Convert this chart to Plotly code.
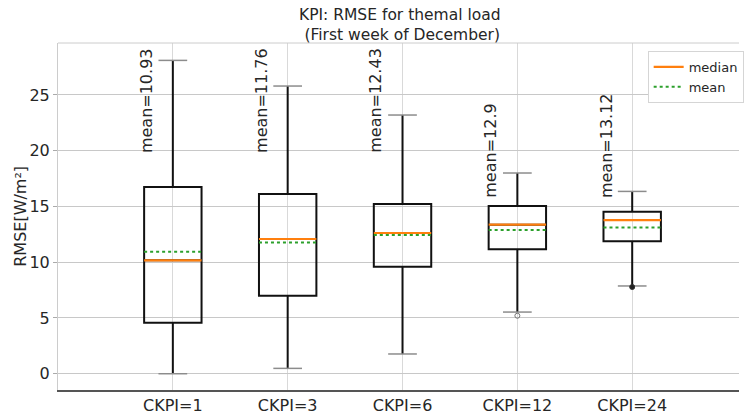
import plotly.graph_objects as go

# ---- data ----
categories = ["CKPI=1", "CKPI=3", "CKPI=6", "CKPI=12", "CKPI=24"]
positions = [1, 2, 3, 4, 5]
lower_whisker = [0.0, 0.48, 1.77, 5.53, 7.87]
q1_vals = [4.57, 7.0, 9.6, 11.16, 11.87]
median_vals = [10.17, 12.08, 12.62, 13.37, 13.78]
mean_vals = [10.93, 11.76, 12.43, 12.9, 13.12]
q3_vals = [16.75, 16.12, 15.22, 15.04, 14.53]
upper_whisker = [28.1, 25.8, 23.2, 18.0, 16.35]
outlier_pos = [4, 5]
outlier_vals = [5.2, 7.78]
label_y = [19.6, 19.6, 19.6, 15.6, 15.6]
y_ticks = [0, 5, 10, 15, 20, 25]

BOX_W = 0.5
CAP_W = 0.25
FONT = "DejaVu Sans"
TXT = "#262626"

fig = go.Figure()

# boxes + whiskers
fig.add_trace(go.Box(
    x=positions, q1=q1_vals, median=median_vals, q3=q3_vals,
    lowerfence=lower_whisker, upperfence=upper_whisker,
    width=BOX_W, whiskerwidth=0,
    line=dict(color="#111111", width=2),
    fillcolor="rgba(0,0,0,0)", boxpoints=False,
    showlegend=False, hoverinfo="skip",
))

# caps
cx, cy = [], []
for p, lo, hi in zip(positions, lower_whisker, upper_whisker):
    cx += [p - CAP_W / 2, p + CAP_W / 2, None, p - CAP_W / 2, p + CAP_W / 2, None]
    cy += [lo, lo, None, hi, hi, None]
fig.add_trace(go.Scatter(x=cx, y=cy, mode="lines",
                         line=dict(color="#8c8c8c", width=1.5),
                         showlegend=False, hoverinfo="skip"))

# medians
mx, my = [], []
for p, m in zip(positions, median_vals):
    mx += [p - BOX_W / 2, p + BOX_W / 2, None]
    my += [m, m, None]
fig.add_trace(go.Scatter(x=mx, y=my, mode="lines", name="median",
                         line=dict(color="#ff7f0e", width=2.2)))

# means
ex, ey = [], []
for p, m in zip(positions, mean_vals):
    ex += [p - BOX_W / 2, p + BOX_W / 2, None]
    ey += [m, m, None]
fig.add_trace(go.Scatter(x=ex, y=ey, mode="lines", name="mean",
                         line=dict(color="#2ca02c", width=2, dash="dot")))

# outliers
fig.add_trace(go.Scatter(x=outlier_pos, y=outlier_vals, mode="markers",
                         marker=dict(symbol=["circle-open", "circle"], size=5,
                                     color=["#777777", "#222222"],
                                     line=dict(width=1, color="#333333")),
                         showlegend=False, hoverinfo="skip"))

# mean labels
for p, m, ly in zip(positions, mean_vals, label_y):
    fig.add_annotation(x=p - 0.23, y=ly, xref="x", yref="y",
                       text=f"mean={m:g}", textangle=-90, showarrow=False,
                       xanchor="center", yanchor="bottom",
                       font=dict(family=FONT, size=16, color=TXT))

# title (two lines, one text block)
fig.add_annotation(x=(403 - 58) / 686, y=(390 - 24.5) / 347, xref="paper", yref="paper",
                   text="KPI: RMSE for themal load<br>&nbsp;(First week of December)",
                   showarrow=False, align="center",
                   xanchor="center", yanchor="middle",
                   font=dict(family=FONT, size=15.5, color=TXT))

# y-axis label
fig.add_annotation(x=(20 - 58) / 686, y=0.5, xref="paper", yref="paper",
                   text="RMSE[W/m²]", textangle=-90, showarrow=False,
                   xanchor="center", yanchor="middle",
                   font=dict(family=FONT, size=16, color=TXT))

# top spine
fig.add_shape(type="line", xref="paper", yref="paper", x0=0, x1=1, y0=1, y1=1,
              line=dict(color="#cccccc", width=1))

fig.update_layout(
    width=744, height=414,
    margin=dict(l=58, r=0, t=43, b=24),
    paper_bgcolor="white", plot_bgcolor="white",
    font=dict(family=FONT, size=16, color=TXT),
    legend=dict(x=(652 - 58) / 686, y=(390 - 51) / 347, xanchor="left", yanchor="top",
                bordercolor="#d5d5d5", borderwidth=1, bgcolor="white",
                font=dict(family=FONT, size=13, color=TXT),
                itemwidth=30, tracegroupgap=0),
    xaxis=dict(range=[0, 5.93], tickvals=positions, ticktext=categories,
               showgrid=True, gridcolor="#d9d9d9", gridwidth=1,
               showline=True, linecolor="#555555", linewidth=1.5,
               ticks="", zeroline=False,
               tickfont=dict(family=FONT, size=16, color=TXT)),
    yaxis=dict(range=[-1.46, 29.66], tickvals=y_ticks,
               showgrid=True, gridcolor="#c8c8c8", gridwidth=1,
               showline=True, linecolor="#cccccc", linewidth=1,
               ticks="outside", ticklen=4, tickcolor="#aaaaaa",
               zeroline=False,
               tickfont=dict(family=FONT, size=16, color=TXT)),
)

# remove the default 8px page margin so the figure fills the window exactly
fig.write_html("out.html",
               config={"displayModeBar": False},
               post_script="document.body.style.margin='0';document.body.style.overflow='hidden';")
